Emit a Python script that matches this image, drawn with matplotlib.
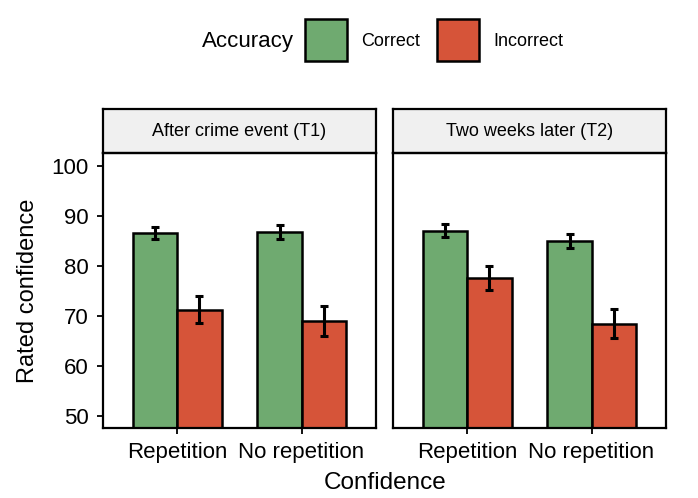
import matplotlib.pyplot as plt
import numpy as np
from matplotlib.patches import Rectangle

plt.rcParams['font.family'] = ['Liberation Sans', 'DejaVu Sans']

# data
conditions = ["Repetition", "No repetition"]
accuracy = ["Correct", "Incorrect"]
panels = ["After crime event (T1)", "Two weeks later (T2)"]

t1_correct = [86.5, 86.7]
t1_correct_err = [1.25, 1.4]
t1_incorrect = [71.2, 69.0]
t1_incorrect_err = [2.7, 3.0]

t2_correct = [87.0, 85.0]
t2_correct_err = [1.25, 1.4]
t2_incorrect = [77.5, 68.4]
t2_incorrect_err = [2.35, 2.85]

colors = {"Correct": "#6FAA70", "Incorrect": "#D65439"}
W, H = 698, 498


def px(x0, y0, x1, y1):
    # pixel box -> figure fraction rect
    return [x0 / W, 1 - y1 / H, (x1 - x0) / W, (y1 - y0) / H]


fig = plt.figure(figsize=(W / 100, H / 100), dpi=100)

panel_data = [
    (t1_correct, t1_correct_err, t1_incorrect, t1_incorrect_err),
    (t2_correct, t2_correct_err, t2_incorrect, t2_incorrect_err),
]
lefts = [103, 393]
width = 0.355
x = np.arange(1, len(conditions) + 1)

for i, (title, (c, ce, inc, ie)) in enumerate(zip(panels, panel_data)):
    x0 = lefts[i]
    ax = fig.add_axes(px(x0, 153, x0 + 273, 428))
    ax.bar(x - width / 2, c, width, color=colors["Correct"], edgecolor="black", linewidth=1.8, zorder=2)
    ax.bar(x + width / 2, inc, width, color=colors["Incorrect"], edgecolor="black", linewidth=1.8, zorder=2)
    ax.errorbar(x - width / 2, c, yerr=ce, fmt="none", ecolor="black", elinewidth=2.2, capsize=2.7, capthick=2.2, zorder=3)
    ax.errorbar(x + width / 2, inc, yerr=ie, fmt="none", ecolor="black", elinewidth=2.2, capsize=2.7, capthick=2.2, zorder=3)
    ax.set_xlim(0.4, 2.6)
    ax.set_ylim(47.5, 102.5)
    ax.set_xticks(x)
    ax.set_xticklabels(conditions)
    ax.set_yticks([50, 60, 70, 80, 90, 100])
    ax.tick_params(axis="both", direction="out", length=4.3, width=1.3, colors="black",
                   labelsize=16, pad=6)
    for s in ["top", "right"]:
        ax.spines[s].set_visible(False)
    ax.spines["left"].set_linewidth(1.6)
    ax.spines["bottom"].set_linewidth(1.6)
    if i > 0:
        ax.tick_params(axis="y", left=False, labelleft=False)

    # facet strip
    sax = fig.add_axes(px(x0, 109, x0 + 273, 153))
    sax.set_facecolor("#F0F0F0")
    sax.set_xticks([])
    sax.set_yticks([])
    for s in sax.spines.values():
        s.set_linewidth(1.6)
    sax.text(0.5, 0.5, title, ha="center", va="center", fontsize=13, transform=sax.transAxes)

    # border on right/top of panel
    bax = fig.add_axes(px(x0, 153, x0 + 273, 428), facecolor="none")
    bax.set_xticks([])
    bax.set_yticks([])
    bax.spines["left"].set_visible(False)
    bax.spines["bottom"].set_visible(False)
    bax.spines["right"].set_linewidth(1.6)
    bax.spines["top"].set_linewidth(1.6)

fig.text(28 / W, 1 - 291 / H, "Rated confidence", rotation=90, ha="center", va="center", fontsize=17)
fig.text(385 / W, 1 - 483 / H, "Confidence", ha="center", va="center", fontsize=17.5)

# legend at top
fig.text(294 / W, 1 - 41 / H, "Accuracy", ha="right", va="center", fontsize=16)
box_x = [305, 437]
for bx, lab in zip(box_x, accuracy):
    fig.patches.append(Rectangle((bx / W, 1 - 61 / H), 42 / W, 42 / H, transform=fig.transFigure,
                                 facecolor=colors[lab], edgecolor="black", linewidth=1.8))
    fig.text((bx + 56) / W, 1 - 41 / H, lab, ha="left", va="center", fontsize=13)

fig.savefig("out.png", dpi=100)
